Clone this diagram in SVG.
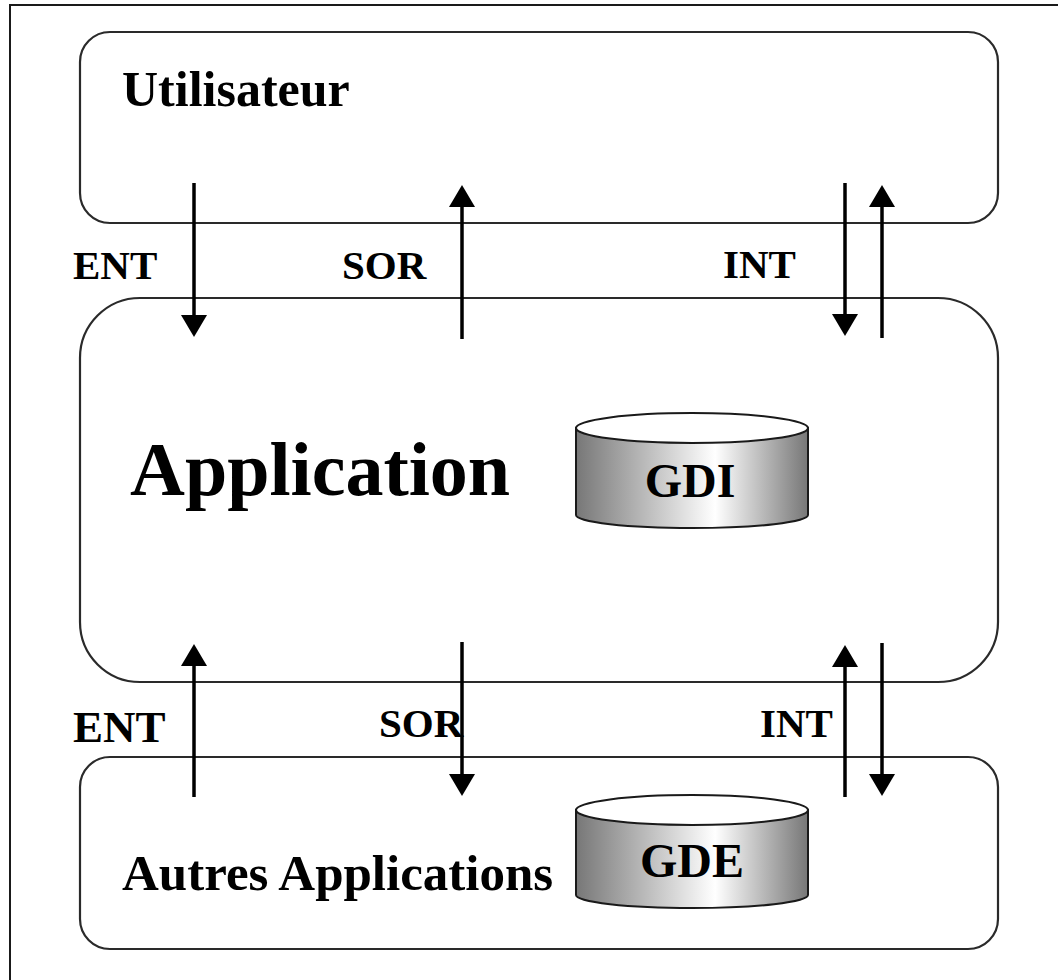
<svg xmlns="http://www.w3.org/2000/svg" width="1058" height="980" viewBox="0 0 1058 980">
  <style>
    .frame { fill: none; stroke: #1a1a1a; stroke-width: 2; }
    .box { fill: #ffffff; stroke: #2a2a2a; stroke-width: 2.2; }
    .lbl { font-family: "Liberation Serif", "Times New Roman", serif; font-weight: bold; fill: #000; }
    .flow { stroke: #000; stroke-width: 3.5; fill: none; marker-end: url(#head); }
    .cyl-body { fill: url(#metal); stroke: #1a1a1a; stroke-width: 2; }
    .cyl-top { fill: #ffffff; stroke: #1a1a1a; stroke-width: 2; }
  </style>
  <defs>
    <linearGradient id="metal" x1="0" y1="0" x2="1" y2="0">
      <stop offset="0" stop-color="#777777"/>
      <stop offset="0.6" stop-color="#ffffff"/>
      <stop offset="1" stop-color="#777777"/>
    </linearGradient>
    <marker id="head" viewBox="0 0 22 26" refX="10" refY="13" markerWidth="22" markerHeight="26" markerUnits="userSpaceOnUse" orient="auto">
      <path d="M0,0 L22,13 L0,26 Z" fill="#000"/>
    </marker>
  </defs>

  <rect width="1058" height="980" fill="#ffffff"/>

  <!-- page frame (left and top edges only) -->
  <path class="frame" d="M10,980 V5 H1058"/>

  <g id="utilisateur">
    <rect class="box" x="80" y="32" width="918" height="191" rx="30" ry="30"/>
    <text class="lbl" x="122" y="106" font-size="50">Utilisateur</text>
  </g>

  <g id="application">
    <rect class="box" x="80" y="298" width="918" height="384" rx="60" ry="60"/>
    <text class="lbl" x="130" y="495" font-size="76">Application</text>
  </g>

  <g id="gdi">
    <path class="cyl-body" d="M576,428 V515 A116,13 0 0 0 808,515 V428 Z"/>
    <ellipse class="cyl-top" cx="692" cy="428" rx="116" ry="15"/>
    <text class="lbl" x="690" y="497" font-size="48" text-anchor="middle">GDI</text>
  </g>

  <g id="autres-applications">
    <rect class="box" x="80" y="757" width="918" height="192" rx="30" ry="30"/>
    <text class="lbl" x="122" y="890" font-size="51">Autres Applications</text>
  </g>

  <g id="gde">
    <path class="cyl-body" d="M576,810 V895 A116,13 0 0 0 808,895 V810 Z"/>
    <ellipse class="cyl-top" cx="692" cy="810" rx="116" ry="15"/>
    <text class="lbl" x="692" y="877" font-size="48" text-anchor="middle">GDE</text>
  </g>

  <g id="connectors">
    <!-- between Utilisateur and Application -->
    <line class="flow" x1="194" y1="183" x2="194" y2="325"/>
    <line class="flow" x1="462" y1="339" x2="462" y2="197"/>
    <line class="flow" x1="845" y1="183" x2="845" y2="324"/>
    <line class="flow" x1="882" y1="338" x2="882" y2="197"/>
    <!-- between Application and Autres Applications -->
    <line class="flow" x1="194" y1="797" x2="194" y2="656"/>
    <line class="flow" x1="462" y1="642" x2="462" y2="784"/>
    <line class="flow" x1="845" y1="797" x2="845" y2="657"/>
    <line class="flow" x1="882" y1="643" x2="882" y2="784"/>
  </g>

  <g id="labels">
    <text class="lbl" x="73" y="279" font-size="41">ENT</text>
    <text class="lbl" x="342" y="279" font-size="41">SOR</text>
    <text class="lbl" x="723" y="278" font-size="41">INT</text>
    <text class="lbl" x="73" y="742" font-size="45">ENT</text>
    <text class="lbl" x="379" y="737" font-size="41">SOR</text>
    <text class="lbl" x="760" y="737" font-size="41">INT</text>
  </g>
</svg>
